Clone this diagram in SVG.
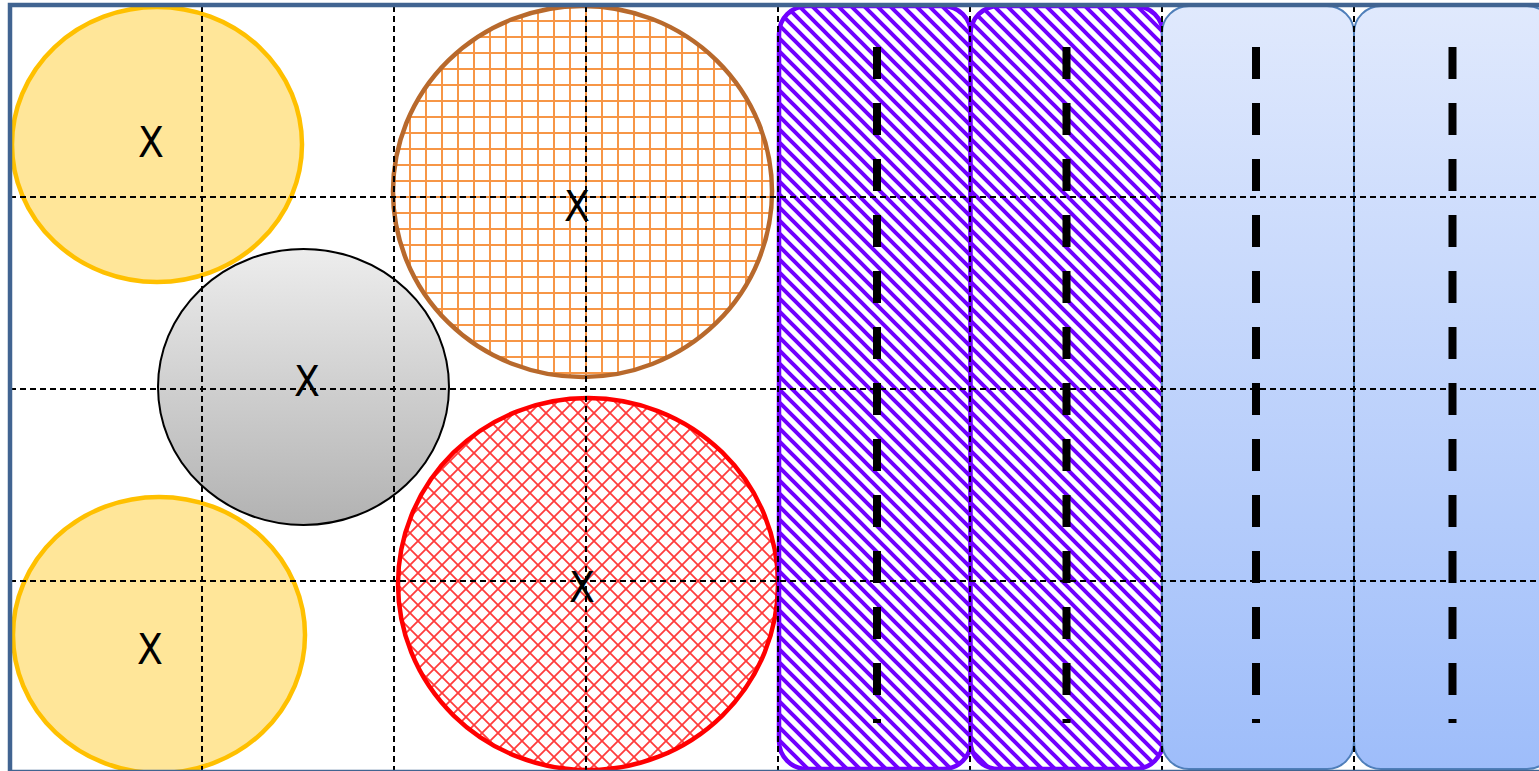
<svg xmlns="http://www.w3.org/2000/svg" width="1539" height="771" viewBox="0 0 1539 771">
  <style>
    .yellow { fill: #FFE699; stroke: #FFC000; stroke-width: 4.5; }
    .purple { fill: url(#hatch); stroke: #7000FF; stroke-width: 4.5; }
    .blue { fill: url(#blueGrad); stroke: #4F7FBA; stroke-width: 2; }
    .grid line { stroke: #000; stroke-width: 2; stroke-dasharray: 6 4; }
    .thick { stroke: #000; stroke-width: 8; stroke-dasharray: 32 24; }
    .lbl { font-family: "DejaVu Sans Condensed", "Liberation Sans", Arial, sans-serif; font-size: 42px; fill: #000; text-anchor: middle; }
  </style>
  <defs>
    <linearGradient id="grayGrad" x1="0" y1="0" x2="0" y2="1">
      <stop offset="0" stop-color="#EDEDED"/>
      <stop offset="1" stop-color="#B2B2B2"/>
    </linearGradient>
    <linearGradient id="blueGrad" x1="0" y1="0" x2="0" y2="1">
      <stop offset="0" stop-color="#E0E9FD"/>
      <stop offset="1" stop-color="#9EBDFA"/>
    </linearGradient>
    <pattern id="orangeGrid" patternUnits="userSpaceOnUse" x="9" y="4" width="16" height="16">
      <rect width="16" height="16" fill="#FFFFFF"/>
      <path d="M1 0V16M0 1H16" stroke="#F79646" stroke-width="2"/>
    </pattern>
    <pattern id="redLattice" patternUnits="userSpaceOnUse" x="10" y="5" width="16" height="16">
      <rect width="16" height="16" fill="#FFFFFF"/>
      <path d="M0 0L16 16M16 0L0 16M-2 14L2 18M14 -2L18 2M-2 2L2 -2M14 18L18 14" stroke="#FF1A1A" stroke-width="1.8" stroke-opacity="0.85"/>
    </pattern>
    <pattern id="hatch" patternUnits="userSpaceOnUse" x="0" y="0" width="13" height="13">
      <rect width="13" height="13" fill="#FFFFFF"/>
      <path d="M-3 -3L16 16M-3 10L3 16M10 -3L16 3" stroke="#7000FF" stroke-width="4"/>
    </pattern>
  </defs>

  <rect x="0" y="0" width="1539" height="771" fill="#FFFFFF"/>

  <g id="node-yellow-top">
    <ellipse class="yellow" cx="157" cy="144.5" rx="145" ry="137.5"/>
  </g>
  <g id="node-yellow-bottom">
    <ellipse class="yellow" cx="159" cy="635" rx="146" ry="138"/>
  </g>
  <g id="node-gray">
    <ellipse cx="303.5" cy="387" rx="145.5" ry="138" fill="url(#grayGrad)" stroke="#000" stroke-width="2"/>
  </g>
  <g id="node-orange">
    <ellipse cx="582.5" cy="191.5" rx="189.5" ry="185.5" fill="url(#orangeGrid)" stroke="#B8692C" stroke-width="4.5"/>
  </g>
  <g id="node-red">
    <ellipse cx="588" cy="584" rx="190" ry="186" fill="url(#redLattice)" stroke="#FF0000" stroke-width="4.5"/>
  </g>
  <g id="node-purple-1">
    <rect class="purple" x="779" y="6" width="192" height="763" rx="28" ry="28"/>
  </g>
  <g id="node-purple-2">
    <rect class="purple" x="970.5" y="6" width="192.5" height="763" rx="28" ry="28"/>
  </g>
  <g id="node-blue-1">
    <rect class="blue" x="1162" y="6" width="192" height="763" rx="27" ry="27"/>
  </g>
  <g id="node-blue-2">
    <rect class="blue" x="1354" y="6" width="200" height="763" rx="27" ry="27"/>
  </g>

  <g id="connectors" class="grid">
    <line x1="202" y1="6" x2="202" y2="771"/>
    <line x1="394" y1="6" x2="394" y2="771"/>
    <line x1="586" y1="6" x2="586" y2="771"/>
    <line x1="778" y1="6" x2="778" y2="771"/>
    <line x1="970" y1="6" x2="970" y2="771"/>
    <line x1="1162" y1="6" x2="1162" y2="771"/>
    <line x1="1354" y1="6" x2="1354" y2="771"/>
    <line x1="10" y1="197" x2="1539" y2="197"/>
    <line x1="10" y1="389" x2="1539" y2="389"/>
    <line x1="10" y1="581" x2="1539" y2="581"/>
  </g>

  <g id="dividers">
    <line class="thick" x1="877" y1="47" x2="877" y2="723"/>
    <line class="thick" x1="1066.5" y1="47" x2="1066.5" y2="723"/>
    <line class="thick" x1="1256" y1="47" x2="1256" y2="723"/>
    <line class="thick" x1="1452.5" y1="47" x2="1452.5" y2="723"/>
  </g>

  <g id="labels">
    <text class="lbl" x="151" y="157">X</text>
    <text class="lbl" x="307" y="396">X</text>
    <text class="lbl" x="577" y="221">X</text>
    <text class="lbl" x="582" y="602">X</text>
    <text class="lbl" x="150" y="664">X</text>
  </g>

  <g id="frame">
    <rect x="10" y="5" width="1533" height="767" fill="none" stroke="#416491" stroke-width="4.5"/>
  </g>
</svg>
